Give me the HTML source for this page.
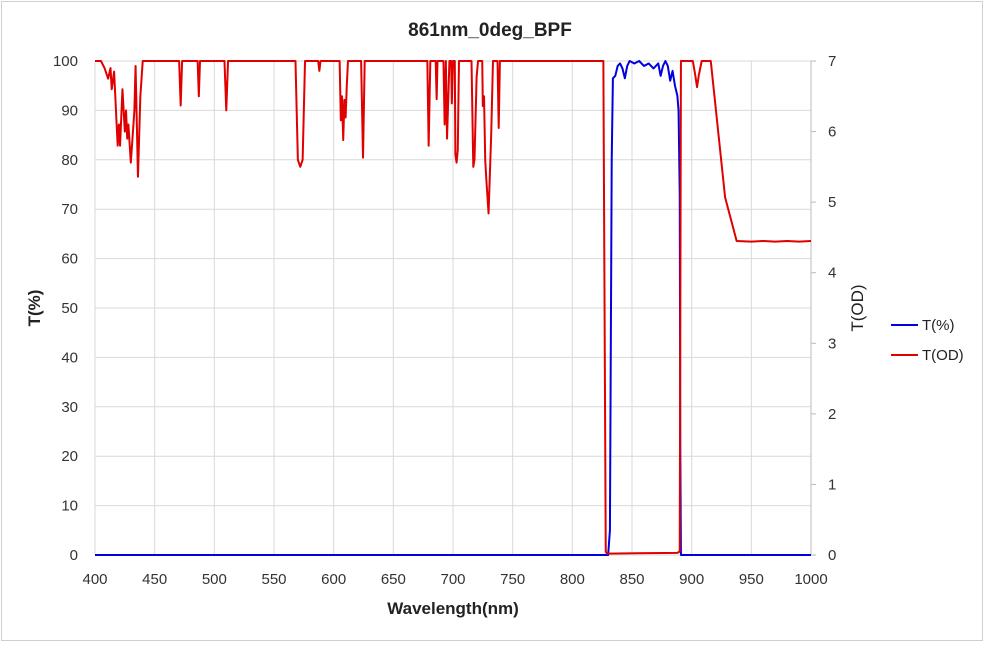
<!DOCTYPE html>
<html><head><meta charset="utf-8"><style>
body{margin:0;background:#fff;font-family:"Liberation Sans",sans-serif}
svg text{font-family:"Liberation Sans",sans-serif}
</style></head><body>
<svg id="c" width="985" height="643">
<rect x="1.5" y="1.5" width="981" height="639" fill="#fff" stroke="#d0d0d0"/>
<text x="490" y="36" text-anchor="middle" font-size="19" font-weight="bold" fill="#222">861nm_0deg_BPF</text>
<g id="grid"></g>
<g id="axes"></g>
<g id="series"></g>
<text transform="translate(40,308) rotate(-90)" text-anchor="middle" font-size="17" font-weight="bold" fill="#222">T(%)</text>
<text transform="translate(863,308) rotate(-90)" text-anchor="middle" font-size="17" fill="#222">T(OD)</text>
<text x="453" y="614" text-anchor="middle" font-size="17" font-weight="bold" fill="#222">Wavelength(nm)</text>
<g>
<line x1="891" y1="325" x2="918" y2="325" stroke="#0000e0" stroke-width="2"/>
<text x="922" y="330" font-size="15" fill="#222">T(%)</text>
<line x1="891" y1="355" x2="918" y2="355" stroke="#e00000" stroke-width="2"/>
<text x="922" y="360" font-size="15" fill="#222">T(OD)</text>
</g>
</svg>
<script>
const xTicks=[400,450,500,550,600,650,700,750,800,850,900,950,1000];
const yTicks=[0,10,20,30,40,50,60,70,80,90,100];
const y2Ticks=[0,1,2,3,4,5,6,7];
const blueWl=[400,826,830,831.5,832,833,834,836,838,840,842,844,846,848,852,856,860,864,868,872,874,876,878,880,882,884,886,888,889,890,890.5,891,1000];
const bluePct=[0,0,0,5,30,80,96.5,97,99,99.5,98.5,96.5,99,100,99.5,100,99,99.5,98.5,99.5,97,99,100,99,96,98,95,93,90,73,20,0,0];
const redWl=[
400,405,408,411,413,414,416,417,419,420,421,423,425,426,427,428,430,431,433,434,436,438,440,
470.5,471.8,473,
486,487,488,
508.5,510,511.5,
568,570,572,574,576,
587,588,589,
605,606,607,608,609,610,611,612,613.5,
623,624.6,626,
678.5,679.6,681,
685.5,686.3,687,
692,693,694,695,696,697,698.5,699,700,701.5,702,703,704,705,
715.5,717,718,719.8,721,724.5,725,726,727,728,729.8,731,732,733.5,
737.3,738.3,739.3,
826,828,829,888,890,891,
901,903,904.5,906,908.4,916,928,937.7,
950,960,970,980,990,1000];
const redOD=[
7,7,6.9,6.75,6.9,6.6,6.85,6.5,5.8,6.1,5.8,6.6,6.0,6.3,5.9,6.1,5.56,5.8,6.3,6.93,5.36,6.5,7,
7,6.37,7,
7,6.5,7,
7,6.3,7,
7,5.6,5.5,5.6,7,
7,6.86,7,
7,6.16,6.5,5.88,6.45,6.2,6.65,7,7,
7,5.63,7,
7,5.8,7,
7,6.46,7,
7,6.1,7,5.9,6.45,7,7,6.4,7,7,5.67,5.56,5.74,7,
7,5.5,5.6,6.78,7,7,6.36,6.5,5.6,5.3,4.84,5.45,5.95,7,
7,6.05,7,
7,0.05,0.02,0.03,0.05,7,
7,6.8,6.63,6.8,7,7,5.07,4.45,
4.44,4.45,4.44,4.45,4.44,4.45];
const L=95,R=811,T=61,B=555;
const X=v=>L+(v-400)/600*(R-L);
const Y=v=>B-v/100*(B-T);
const Y2=v=>B-v/7*(B-T);
const NS='http://www.w3.org/2000/svg';
function mk(tag,attrs,parent){const e=document.createElementNS(NS,tag);for(const k in attrs)e.setAttribute(k,attrs[k]);parent.appendChild(e);return e;}
const grid=document.getElementById('grid'),axes=document.getElementById('axes'),ser=document.getElementById('series');
xTicks.forEach(t=>{
 const l=mk('line',{x1:X(t),x2:X(t),y1:T,y2:B,stroke:'#d9d9d9','stroke-width':1},grid);
 
 
 const tx=mk('text',{x:X(t),y:B+29,'text-anchor':'middle','font-size':15,fill:'#333'},axes);
 tx.textContent=t;
 
 
});
yTicks.forEach(t=>{
 const l=mk('line',{x1:L,x2:R,y1:Y(t),y2:Y(t),stroke:'#d9d9d9','stroke-width':1},grid);
 
 
 const tx=mk('text',{x:L-17,y:Y(t)+5,'text-anchor':'end','font-size':15,fill:'#333'},axes);
 tx.textContent=t;
 
 
});
y2Ticks.forEach(t=>{
 const l=mk('line',{x1:R,x2:R+5,y1:Y2(t),y2:Y2(t),stroke:'#bbb','stroke-width':1},axes);
 
 
 const tx=mk('text',{x:R+17,y:Y2(t)+5,'text-anchor':'start','font-size':15,fill:'#333'},axes);
 tx.textContent=t;
 
 
});
const ax=mk('line',{x1:R,x2:R,y1:T,y2:B,stroke:'#bbb'},axes);


const bp=mk('polyline',{points:blueWl.map((w,i)=>X(w)+','+Y(bluePct[i])).join(' '),fill:'none',stroke:'#0000e0','stroke-width':2,'stroke-linejoin':'round'},ser);


const rp=mk('polyline',{points:redWl.map((w,i)=>X(w)+','+Y2(redOD[i])).join(' '),fill:'none',stroke:'#e00000','stroke-width':2,'stroke-linejoin':'round'},ser);


</script>
</body></html>
